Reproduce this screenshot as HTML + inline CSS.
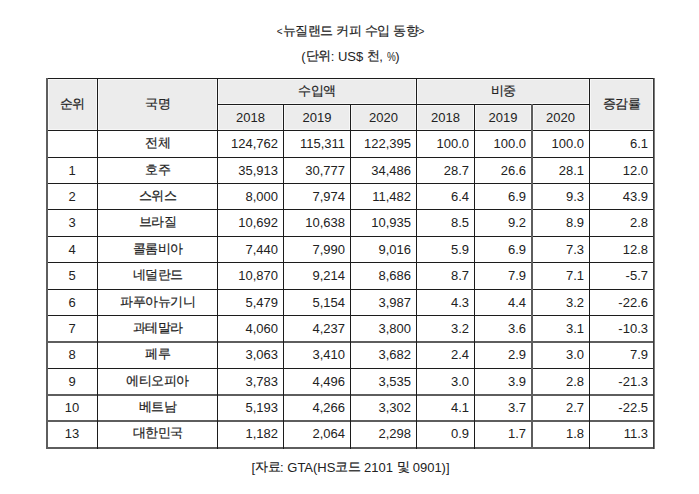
<!DOCTYPE html>
<html><head><meta charset="utf-8"><style>
html,body{margin:0;padding:0;background:#fff;}
body{width:699px;height:494px;position:relative;overflow:hidden;font-family:"Liberation Sans",sans-serif;color:#222;}
i{position:absolute;display:block;}
.t{position:absolute;font-size:13px;white-space:nowrap;}
.pc{display:inline-block;transform:scaleX(.76);transform-origin:left;margin-right:-2.8px;}
.ab{font-size:10px;position:relative;top:-1px;}
.k{position:relative;top:-1px;-webkit-text-stroke:0.2px #222;letter-spacing:-0.5px;}
</style></head><body>
<i style="left:46px;top:78px;width:607px;height:52px;background:#ececec"></i><i style="left:48px;top:79px;width:605px;height:1px;background:#f7f7f7"></i><i style="left:218px;top:103px;width:371px;height:1px;background:#f7f7f7"></i><i style="left:218px;top:105px;width:371px;height:1px;background:#f7f7f7"></i><i style="left:48px;top:129px;width:605px;height:1px;background:#f7f7f7"></i><i style="left:96px;top:79px;width:1px;height:50px;background:#f7f7f7"></i><i style="left:98px;top:79px;width:1px;height:50px;background:#f7f7f7"></i><i style="left:216px;top:79px;width:1px;height:50px;background:#f7f7f7"></i><i style="left:218px;top:79px;width:1px;height:50px;background:#f7f7f7"></i><i style="left:282px;top:105px;width:1px;height:24px;background:#f7f7f7"></i><i style="left:284px;top:105px;width:1px;height:24px;background:#f7f7f7"></i><i style="left:349px;top:105px;width:1px;height:24px;background:#f7f7f7"></i><i style="left:351px;top:105px;width:1px;height:24px;background:#f7f7f7"></i><i style="left:415px;top:79px;width:1px;height:50px;background:#f7f7f7"></i><i style="left:417px;top:79px;width:1px;height:50px;background:#f7f7f7"></i><i style="left:473px;top:105px;width:1px;height:24px;background:#f7f7f7"></i><i style="left:475px;top:105px;width:1px;height:24px;background:#f7f7f7"></i><i style="left:530px;top:105px;width:1px;height:24px;background:#f7f7f7"></i><i style="left:533px;top:105px;width:1px;height:24px;background:#f7f7f7"></i><i style="left:588px;top:79px;width:1px;height:50px;background:#f7f7f7"></i><i style="left:590px;top:79px;width:1px;height:50px;background:#f7f7f7"></i><i style="left:48px;top:79px;width:1px;height:51px;background:#f7f7f7"></i><i style="left:652px;top:79px;width:1px;height:51px;background:#f7f7f7"></i><i style="left:46px;top:78px;width:609px;height:1px;background:#1c1c1c"></i><i style="left:217px;top:104px;width:372px;height:1px;background:#1c1c1c"></i><i style="left:46px;top:130px;width:609px;height:1px;background:#1c1c1c"></i><i style="left:46px;top:157px;width:609px;height:1px;background:#1c1c1c"></i><i style="left:46px;top:183px;width:609px;height:1px;background:#1c1c1c"></i><i style="left:46px;top:209px;width:609px;height:1px;background:#1c1c1c"></i><i style="left:46px;top:236px;width:609px;height:1px;background:#1c1c1c"></i><i style="left:46px;top:262px;width:609px;height:1px;background:#1c1c1c"></i><i style="left:46px;top:289px;width:609px;height:1px;background:#1c1c1c"></i><i style="left:46px;top:315px;width:609px;height:1px;background:#1c1c1c"></i><i style="left:46px;top:341px;width:609px;height:2px;background:#5e5e5e"></i><i style="left:46px;top:368px;width:609px;height:1px;background:#1c1c1c"></i><i style="left:46px;top:394px;width:609px;height:2px;background:#5e5e5e"></i><i style="left:46px;top:420px;width:609px;height:2px;background:#5e5e5e"></i><i style="left:46px;top:447px;width:609px;height:2px;background:#5e5e5e"></i><i style="left:46px;top:78px;width:2px;height:371px;background:#5e5e5e"></i><i style="left:97px;top:78px;width:1px;height:371px;background:#1c1c1c"></i><i style="left:217px;top:78px;width:1px;height:371px;background:#1c1c1c"></i><i style="left:283px;top:104px;width:1px;height:345px;background:#1c1c1c"></i><i style="left:350px;top:104px;width:1px;height:345px;background:#1c1c1c"></i><i style="left:416px;top:78px;width:1px;height:371px;background:#1c1c1c"></i><i style="left:474px;top:104px;width:1px;height:345px;background:#1c1c1c"></i><i style="left:531px;top:104px;width:2px;height:345px;background:#5e5e5e"></i><i style="left:589px;top:78px;width:1px;height:371px;background:#1c1c1c"></i><i style="left:653px;top:78px;width:1px;height:371px;background:#3a3a3a"></i><i style="left:654px;top:78px;width:1px;height:371px;background:#7a7a7a"></i><div class="t" style="left:47px;width:50px;top:79px;height:51px;line-height:51px;text-align:center;"><span class="k">순위</span></div><div class="t" style="left:98px;width:119px;top:79px;height:51px;line-height:51px;text-align:center;"><span class="k">국명</span></div><div class="t" style="left:218px;width:198px;top:79px;height:25px;line-height:25px;text-align:center;"><span class="k">수입액</span></div><div class="t" style="left:417px;width:172px;top:79px;height:25px;line-height:25px;text-align:center;"><span class="k">비중</span></div><div class="t" style="left:590px;width:63px;top:79px;height:51px;line-height:51px;text-align:center;"><span class="k">증감률</span></div><div class="t" style="left:218px;width:65px;top:105px;height:25px;line-height:25px;text-align:center;">2018</div><div class="t" style="left:284px;width:66px;top:105px;height:25px;line-height:25px;text-align:center;">2019</div><div class="t" style="left:351px;width:65px;top:105px;height:25px;line-height:25px;text-align:center;">2020</div><div class="t" style="left:417px;width:57px;top:105px;height:25px;line-height:25px;text-align:center;">2018</div><div class="t" style="left:475px;width:56px;top:105px;height:25px;line-height:25px;text-align:center;">2019</div><div class="t" style="left:532px;width:57px;top:105px;height:25px;line-height:25px;text-align:center;">2020</div><div class="t" style="left:47px;width:50px;top:131px;height:26px;line-height:26px;text-align:center;"></div><div class="t" style="left:98px;width:119px;top:131px;height:26px;line-height:26px;text-align:center;"><span class="k">전체</span></div><div class="t" style="left:218px;width:60px;top:131px;height:26px;line-height:26px;text-align:right;">124,762</div><div class="t" style="left:284px;width:61px;top:131px;height:26px;line-height:26px;text-align:right;">115,311</div><div class="t" style="left:351px;width:60px;top:131px;height:26px;line-height:26px;text-align:right;">122,395</div><div class="t" style="left:417px;width:52px;top:131px;height:26px;line-height:26px;text-align:right;">100.0</div><div class="t" style="left:475px;width:51px;top:131px;height:26px;line-height:26px;text-align:right;">100.0</div><div class="t" style="left:532px;width:52px;top:131px;height:26px;line-height:26px;text-align:right;">100.0</div><div class="t" style="left:590px;width:58px;top:131px;height:26px;line-height:26px;text-align:right;">6.1</div><div class="t" style="left:47px;width:50px;top:158px;height:25px;line-height:25px;text-align:center;">1</div><div class="t" style="left:98px;width:119px;top:158px;height:25px;line-height:25px;text-align:center;"><span class="k">호주</span></div><div class="t" style="left:218px;width:60px;top:158px;height:25px;line-height:25px;text-align:right;">35,913</div><div class="t" style="left:284px;width:61px;top:158px;height:25px;line-height:25px;text-align:right;">30,777</div><div class="t" style="left:351px;width:60px;top:158px;height:25px;line-height:25px;text-align:right;">34,486</div><div class="t" style="left:417px;width:52px;top:158px;height:25px;line-height:25px;text-align:right;">28.7</div><div class="t" style="left:475px;width:51px;top:158px;height:25px;line-height:25px;text-align:right;">26.6</div><div class="t" style="left:532px;width:52px;top:158px;height:25px;line-height:25px;text-align:right;">28.1</div><div class="t" style="left:590px;width:58px;top:158px;height:25px;line-height:25px;text-align:right;">12.0</div><div class="t" style="left:47px;width:50px;top:184px;height:25px;line-height:25px;text-align:center;">2</div><div class="t" style="left:98px;width:119px;top:184px;height:25px;line-height:25px;text-align:center;"><span class="k">스위스</span></div><div class="t" style="left:218px;width:60px;top:184px;height:25px;line-height:25px;text-align:right;">8,000</div><div class="t" style="left:284px;width:61px;top:184px;height:25px;line-height:25px;text-align:right;">7,974</div><div class="t" style="left:351px;width:60px;top:184px;height:25px;line-height:25px;text-align:right;">11,482</div><div class="t" style="left:417px;width:52px;top:184px;height:25px;line-height:25px;text-align:right;">6.4</div><div class="t" style="left:475px;width:51px;top:184px;height:25px;line-height:25px;text-align:right;">6.9</div><div class="t" style="left:532px;width:52px;top:184px;height:25px;line-height:25px;text-align:right;">9.3</div><div class="t" style="left:590px;width:58px;top:184px;height:25px;line-height:25px;text-align:right;">43.9</div><div class="t" style="left:47px;width:50px;top:210px;height:26px;line-height:26px;text-align:center;">3</div><div class="t" style="left:98px;width:119px;top:210px;height:26px;line-height:26px;text-align:center;"><span class="k">브라질</span></div><div class="t" style="left:218px;width:60px;top:210px;height:26px;line-height:26px;text-align:right;">10,692</div><div class="t" style="left:284px;width:61px;top:210px;height:26px;line-height:26px;text-align:right;">10,638</div><div class="t" style="left:351px;width:60px;top:210px;height:26px;line-height:26px;text-align:right;">10,935</div><div class="t" style="left:417px;width:52px;top:210px;height:26px;line-height:26px;text-align:right;">8.5</div><div class="t" style="left:475px;width:51px;top:210px;height:26px;line-height:26px;text-align:right;">9.2</div><div class="t" style="left:532px;width:52px;top:210px;height:26px;line-height:26px;text-align:right;">8.9</div><div class="t" style="left:590px;width:58px;top:210px;height:26px;line-height:26px;text-align:right;">2.8</div><div class="t" style="left:47px;width:50px;top:237px;height:25px;line-height:25px;text-align:center;">4</div><div class="t" style="left:98px;width:119px;top:237px;height:25px;line-height:25px;text-align:center;"><span class="k">콜롬비아</span></div><div class="t" style="left:218px;width:60px;top:237px;height:25px;line-height:25px;text-align:right;">7,440</div><div class="t" style="left:284px;width:61px;top:237px;height:25px;line-height:25px;text-align:right;">7,990</div><div class="t" style="left:351px;width:60px;top:237px;height:25px;line-height:25px;text-align:right;">9,016</div><div class="t" style="left:417px;width:52px;top:237px;height:25px;line-height:25px;text-align:right;">5.9</div><div class="t" style="left:475px;width:51px;top:237px;height:25px;line-height:25px;text-align:right;">6.9</div><div class="t" style="left:532px;width:52px;top:237px;height:25px;line-height:25px;text-align:right;">7.3</div><div class="t" style="left:590px;width:58px;top:237px;height:25px;line-height:25px;text-align:right;">12.8</div><div class="t" style="left:47px;width:50px;top:263px;height:26px;line-height:26px;text-align:center;">5</div><div class="t" style="left:98px;width:119px;top:263px;height:26px;line-height:26px;text-align:center;"><span class="k">네덜란드</span></div><div class="t" style="left:218px;width:60px;top:263px;height:26px;line-height:26px;text-align:right;">10,870</div><div class="t" style="left:284px;width:61px;top:263px;height:26px;line-height:26px;text-align:right;">9,214</div><div class="t" style="left:351px;width:60px;top:263px;height:26px;line-height:26px;text-align:right;">8,686</div><div class="t" style="left:417px;width:52px;top:263px;height:26px;line-height:26px;text-align:right;">8.7</div><div class="t" style="left:475px;width:51px;top:263px;height:26px;line-height:26px;text-align:right;">7.9</div><div class="t" style="left:532px;width:52px;top:263px;height:26px;line-height:26px;text-align:right;">7.1</div><div class="t" style="left:590px;width:58px;top:263px;height:26px;line-height:26px;text-align:right;">-5.7</div><div class="t" style="left:47px;width:50px;top:290px;height:25px;line-height:25px;text-align:center;">6</div><div class="t" style="left:98px;width:119px;top:290px;height:25px;line-height:25px;text-align:center;"><span class="k">파푸아뉴기니</span></div><div class="t" style="left:218px;width:60px;top:290px;height:25px;line-height:25px;text-align:right;">5,479</div><div class="t" style="left:284px;width:61px;top:290px;height:25px;line-height:25px;text-align:right;">5,154</div><div class="t" style="left:351px;width:60px;top:290px;height:25px;line-height:25px;text-align:right;">3,987</div><div class="t" style="left:417px;width:52px;top:290px;height:25px;line-height:25px;text-align:right;">4.3</div><div class="t" style="left:475px;width:51px;top:290px;height:25px;line-height:25px;text-align:right;">4.4</div><div class="t" style="left:532px;width:52px;top:290px;height:25px;line-height:25px;text-align:right;">3.2</div><div class="t" style="left:590px;width:58px;top:290px;height:25px;line-height:25px;text-align:right;">-22.6</div><div class="t" style="left:47px;width:50px;top:316px;height:25px;line-height:25px;text-align:center;">7</div><div class="t" style="left:98px;width:119px;top:316px;height:25px;line-height:25px;text-align:center;"><span class="k">과테말라</span></div><div class="t" style="left:218px;width:60px;top:316px;height:25px;line-height:25px;text-align:right;">4,060</div><div class="t" style="left:284px;width:61px;top:316px;height:25px;line-height:25px;text-align:right;">4,237</div><div class="t" style="left:351px;width:60px;top:316px;height:25px;line-height:25px;text-align:right;">3,800</div><div class="t" style="left:417px;width:52px;top:316px;height:25px;line-height:25px;text-align:right;">3.2</div><div class="t" style="left:475px;width:51px;top:316px;height:25px;line-height:25px;text-align:right;">3.6</div><div class="t" style="left:532px;width:52px;top:316px;height:25px;line-height:25px;text-align:right;">3.1</div><div class="t" style="left:590px;width:58px;top:316px;height:25px;line-height:25px;text-align:right;">-10.3</div><div class="t" style="left:47px;width:50px;top:342px;height:26px;line-height:26px;text-align:center;">8</div><div class="t" style="left:98px;width:119px;top:342px;height:26px;line-height:26px;text-align:center;"><span class="k">페루</span></div><div class="t" style="left:218px;width:60px;top:342px;height:26px;line-height:26px;text-align:right;">3,063</div><div class="t" style="left:284px;width:61px;top:342px;height:26px;line-height:26px;text-align:right;">3,410</div><div class="t" style="left:351px;width:60px;top:342px;height:26px;line-height:26px;text-align:right;">3,682</div><div class="t" style="left:417px;width:52px;top:342px;height:26px;line-height:26px;text-align:right;">2.4</div><div class="t" style="left:475px;width:51px;top:342px;height:26px;line-height:26px;text-align:right;">2.9</div><div class="t" style="left:532px;width:52px;top:342px;height:26px;line-height:26px;text-align:right;">3.0</div><div class="t" style="left:590px;width:58px;top:342px;height:26px;line-height:26px;text-align:right;">7.9</div><div class="t" style="left:47px;width:50px;top:369px;height:25px;line-height:25px;text-align:center;">9</div><div class="t" style="left:98px;width:119px;top:369px;height:25px;line-height:25px;text-align:center;"><span class="k">에티오피아</span></div><div class="t" style="left:218px;width:60px;top:369px;height:25px;line-height:25px;text-align:right;">3,783</div><div class="t" style="left:284px;width:61px;top:369px;height:25px;line-height:25px;text-align:right;">4,496</div><div class="t" style="left:351px;width:60px;top:369px;height:25px;line-height:25px;text-align:right;">3,535</div><div class="t" style="left:417px;width:52px;top:369px;height:25px;line-height:25px;text-align:right;">3.0</div><div class="t" style="left:475px;width:51px;top:369px;height:25px;line-height:25px;text-align:right;">3.9</div><div class="t" style="left:532px;width:52px;top:369px;height:25px;line-height:25px;text-align:right;">2.8</div><div class="t" style="left:590px;width:58px;top:369px;height:25px;line-height:25px;text-align:right;">-21.3</div><div class="t" style="left:47px;width:50px;top:395px;height:25px;line-height:25px;text-align:center;">10</div><div class="t" style="left:98px;width:119px;top:395px;height:25px;line-height:25px;text-align:center;"><span class="k">베트남</span></div><div class="t" style="left:218px;width:60px;top:395px;height:25px;line-height:25px;text-align:right;">5,193</div><div class="t" style="left:284px;width:61px;top:395px;height:25px;line-height:25px;text-align:right;">4,266</div><div class="t" style="left:351px;width:60px;top:395px;height:25px;line-height:25px;text-align:right;">3,302</div><div class="t" style="left:417px;width:52px;top:395px;height:25px;line-height:25px;text-align:right;">4.1</div><div class="t" style="left:475px;width:51px;top:395px;height:25px;line-height:25px;text-align:right;">3.7</div><div class="t" style="left:532px;width:52px;top:395px;height:25px;line-height:25px;text-align:right;">2.7</div><div class="t" style="left:590px;width:58px;top:395px;height:25px;line-height:25px;text-align:right;">-22.5</div><div class="t" style="left:47px;width:50px;top:421px;height:26px;line-height:26px;text-align:center;">13</div><div class="t" style="left:98px;width:119px;top:421px;height:26px;line-height:26px;text-align:center;"><span class="k">대한민국</span></div><div class="t" style="left:218px;width:60px;top:421px;height:26px;line-height:26px;text-align:right;">1,182</div><div class="t" style="left:284px;width:61px;top:421px;height:26px;line-height:26px;text-align:right;">2,064</div><div class="t" style="left:351px;width:60px;top:421px;height:26px;line-height:26px;text-align:right;">2,298</div><div class="t" style="left:417px;width:52px;top:421px;height:26px;line-height:26px;text-align:right;">0.9</div><div class="t" style="left:475px;width:51px;top:421px;height:26px;line-height:26px;text-align:right;">1.7</div><div class="t" style="left:532px;width:52px;top:421px;height:26px;line-height:26px;text-align:right;">1.8</div><div class="t" style="left:590px;width:58px;top:421px;height:26px;line-height:26px;text-align:right;">11.3</div><div class="t" style="left:1px;width:699px;top:22px;height:20px;line-height:20px;text-align:center;"><span class="ab">&lt;</span><span class="k">뉴질랜드</span> <span class="k">커피</span> <span class="k">수입</span> <span class="k">동향</span><span class="ab">&gt;</span></div><div class="t" style="left:1px;width:699px;top:47px;height:20px;line-height:20px;text-align:center;">(<span class="k">단위</span>: US$ <span class="k">천</span>, <span class="pc">%</span>)</div><div class="t" style="left:1px;width:699px;top:458px;height:20px;line-height:20px;text-align:center;">[<span class="k">자료</span>: GTA(HS<span class="k">코드</span> 2101 <span class="k">및</span> 0901)]</div>
</body></html>
